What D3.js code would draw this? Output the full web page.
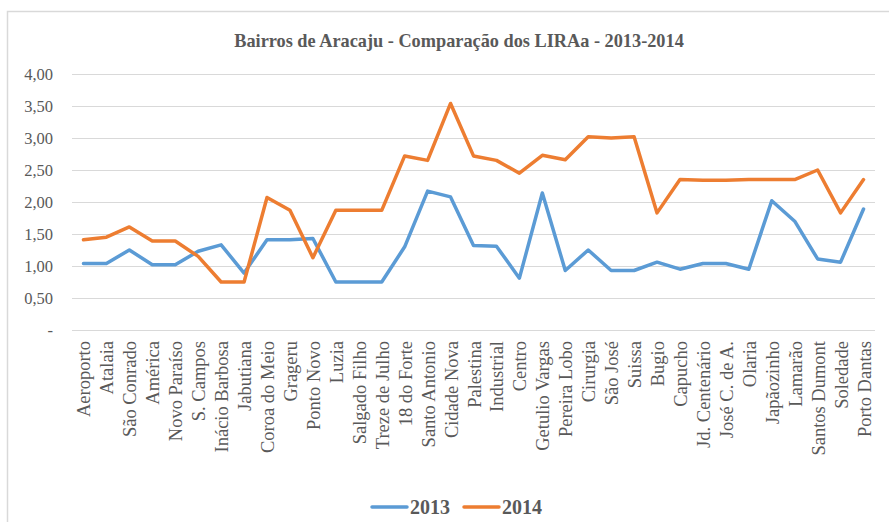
<!DOCTYPE html>
<html>
<head>
<meta charset="utf-8">
<script src="https://cdn.jsdelivr.net/npm/d3@7"></script>
<style>
  html, body { margin: 0; padding: 0; background: #fff; }
  svg { display: block; }
</style>
</head>
<body>
<div id="chart"></div>
<script>
const bairros = [
  "Aeroporto", "Atalaia", "São Conrado", "América", "Novo Paraíso", "S. Campos",
  "Inácio Barbosa", "Jabutiana", "Coroa do Meio", "Grageru", "Ponto Novo", "Luzia",
  "Salgado Filho", "Treze de Julho", "18 do Forte", "Santo Antonio", "Cidade Nova",
  "Palestina", "Industrial", "Centro", "Getulio Vargas", "Pereira Lobo", "Cirurgia",
  "São José", "Suissa", "Bugio", "Capucho", "Jd. Centenário", "José C. de A.",
  "Olaria", "Japãozinho", "Lamarão", "Santos Dumont", "Soledade", "Porto Dantas"
];

const lira2013 = [
  1.04, 1.04, 1.25, 1.02, 1.02, 1.23, 1.33, 0.89, 1.41, 1.41, 1.43, 0.75,
  0.75, 0.75, 1.30, 2.17, 2.08, 1.32, 1.31, 0.81, 2.14, 0.93, 1.25,
  0.93, 0.93, 1.06, 0.95, 1.04, 1.04, 0.95, 2.02, 1.70, 1.11, 1.06, 1.89
];

const lira2014 = [
  1.41, 1.45, 1.61, 1.39, 1.39, 1.15, 0.75, 0.75, 2.07, 1.87, 1.13, 1.87,
  1.87, 1.87, 2.72, 2.65, 3.54, 2.72, 2.65, 2.45, 2.73, 2.66, 3.02,
  3.00, 3.02, 1.83, 2.35, 2.34, 2.34, 2.35, 2.35, 2.35, 2.50, 1.83, 2.35
];

const yTicks = [0, 0.5, 1, 1.5, 2, 2.5, 3, 3.5, 4];
const series = [
  { name: "2013", values: lira2013, color: "#5B9BD5" },
  { name: "2014", values: lira2014, color: "#ED7D31" }
];

const width = 889, height = 522;
const margin = { left: 72, right: 14, top: 74, bottom: 192 };
const TEXT = "#595959";
const FONT = "'Liberation Serif', 'Times New Roman', serif";

const svg = d3.select("#chart").append("svg")
  .attr("width", width)
  .attr("height", height);

// chart frame
svg.append("path")
  .attr("d", `M7.5,${height} V11.5 H${width}`)
  .attr("fill", "none")
  .attr("stroke", "#d9d9d9")
  .attr("stroke-width", 1.5);

const x = d3.scaleBand()
  .domain(bairros)
  .range([margin.left, width - margin.right])
  .paddingInner(0)
  .paddingOuter(0);

const y = d3.scaleLinear()
  .domain([0, 4])
  .range([330, margin.top]);

////////////////////////////////////////////////////////////////////////////////////

// grid
svg.append("g")
  .selectAll("line")
  .data(yTicks)
  .enter()
  .append("line")
  .attr("x1", margin.left)
  .attr("x2", width - margin.right)
  .attr("y1", d => Math.round(y(d)) + 0.5)
  .attr("y2", d => Math.round(y(d)) + 0.5)
  .attr("stroke", "#d9d9d9")
  .attr("stroke-width", 1);

// y labels
const fmt = d => d === 0 ? "-" : d3.format(".2f")(d).replace(".", ",");
svg.append("g")
  .selectAll("text")
  .data(yTicks)
  .enter()
  .append("text")
  .attr("x", 53)
  .attr("y", d => y(d))
  .attr("dy", "0.35em")
  .attr("text-anchor", "end")
  .attr("font-family", FONT)
  .attr("font-size", "16.5px")
  .attr("fill", TEXT)
  .text(fmt);

// x labels
const cx = d => x(d) + x.bandwidth() / 2;
svg.append("g")
  .selectAll("text")
  .data(bairros)
  .enter()
  .append("text")
  .attr("transform", d => `translate(${cx(d) + 7},341) rotate(-90)`)
  .attr("text-anchor", "end")
  .attr("font-family", FONT)
  .attr("font-size", "18.5px")
  .attr("fill", TEXT)
  .text(d => d);

////////////////////////////////////////////////////////////////////////////////////

const line = d3.line()
  .x((d, i) => cx(bairros[i]))
  .y(d => y(d));

svg.append("g")
  .selectAll("path")
  .data(series)
  .enter()
  .append("path")
  .attr("d", d => line(d.values))
  .attr("fill", "none")
  .attr("stroke", d => d.color)
  .attr("stroke-width", 3.5)
  .attr("stroke-linejoin", "round")
  .attr("stroke-linecap", "round");

// title
svg.append("text")
  .attr("x", 459)
  .attr("y", 47)
  .attr("text-anchor", "middle")
  .attr("font-family", FONT)
  .attr("font-weight", "bold")
  .attr("font-size", "18.3px")
  .attr("fill", TEXT)
  .text("Bairros de Aracaju  - Comparação dos LIRAa - 2013-2014");

// legend
const legend = svg.append("g")
  .selectAll("g")
  .data(series)
  .enter()
  .append("g")
  .attr("transform", (d, i) => `translate(${372 + i * 92},507)`);

legend.append("line")
  .attr("x1", 0)
  .attr("x2", 35)
  .attr("stroke", d => d.color)
  .attr("stroke-width", 3.5)
  .attr("stroke-linecap", "round");

legend.append("text")
  .attr("x", 38)
  .attr("dy", "0.35em")
  .attr("font-family", FONT)
  .attr("font-weight", "bold")
  .attr("font-size", "20px")
  .attr("fill", TEXT)
  .text(d => d.name);
</script>
</body>
</html>
